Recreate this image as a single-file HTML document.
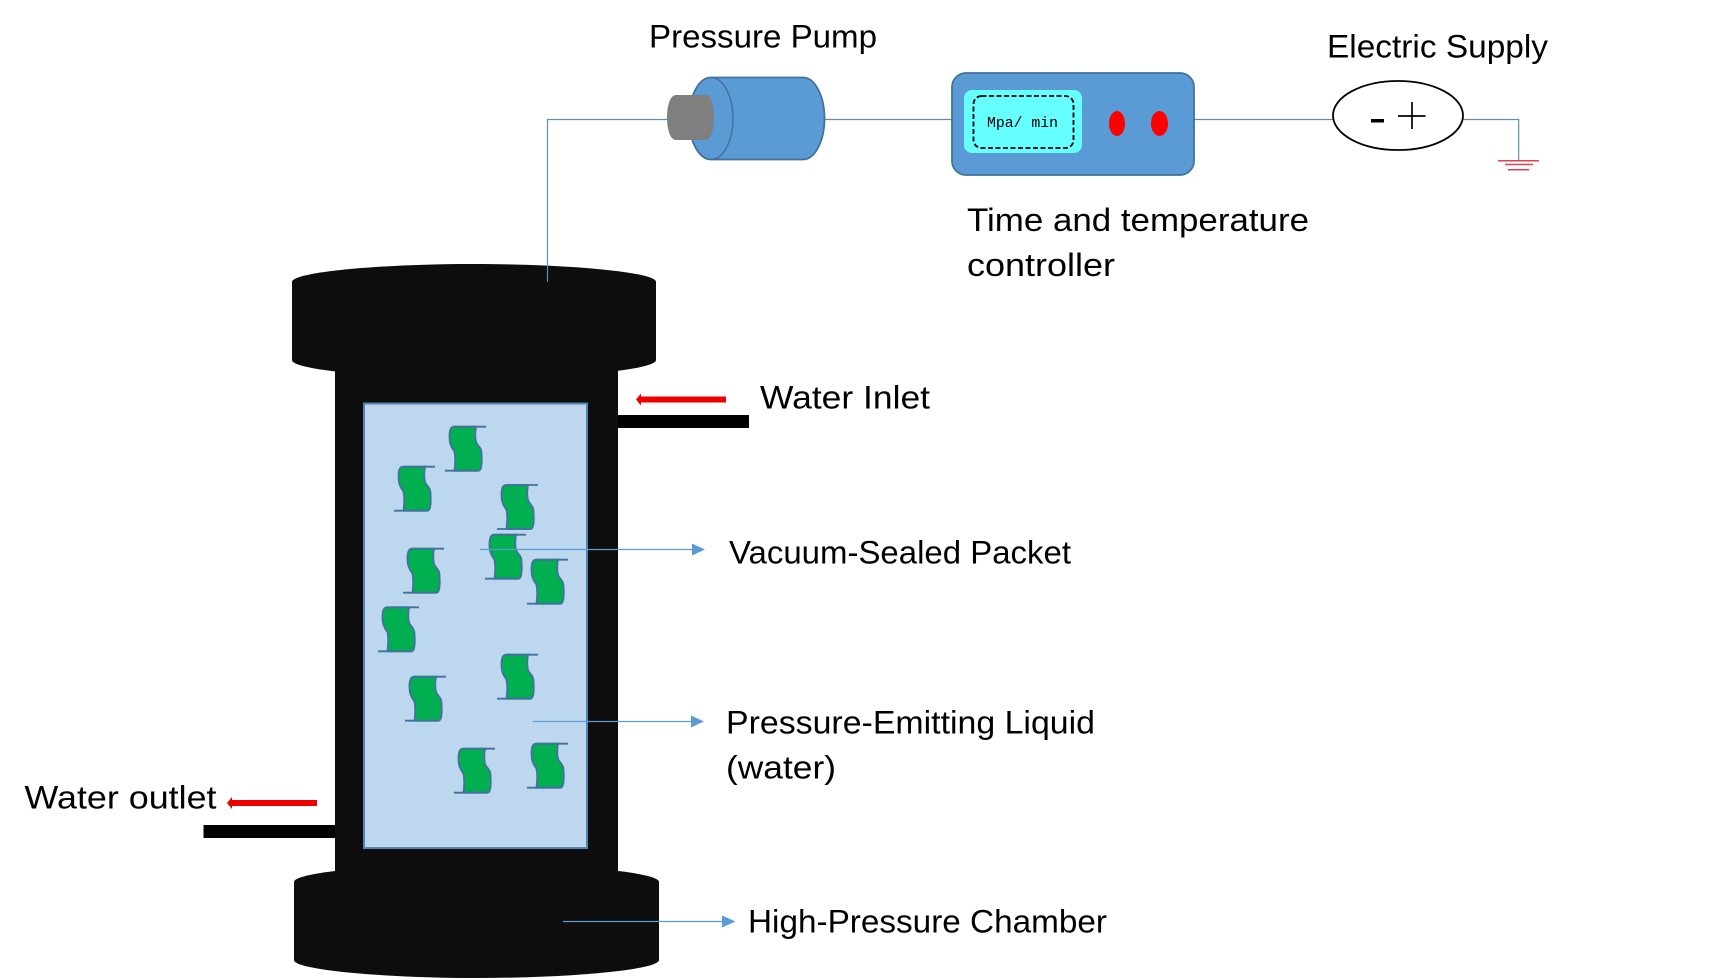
<!DOCTYPE html>
<html lang="en">
<head>
<meta charset="utf-8">
<title>High-Pressure Processing Diagram</title>
<style>
html,body{margin:0;padding:0;background:#fff;width:1725px;height:978px;overflow:hidden}
svg{display:block}
.t{font-family:"Liberation Sans",sans-serif;font-size:32.500px;fill:#000}
.c{stroke:#5f8fb0;stroke-width:1.2;fill:none}
.a{stroke:#5b9bd5;stroke-width:1.2;fill:none}
.h{fill:#5b9bd5}
.b{fill:#0d0d0d}
</style>
</head>
<body>
<svg width="1725" height="978" viewBox="0 0 1725 978" xmlns="http://www.w3.org/2000/svg">
<defs>
<g id="p">
<path d="M9,0 H31 C30,6 30,11 31,15 C32,19 36.500,20 36.500,27 C37,34 37,44 33.500,44 H9.500 C10.500,36 10.500,30 9.500,25 C7,21 4.500,18 4.500,10 C4.500,4 5.500,0 9,0 Z" fill="#00b050" stroke="#41719c" stroke-width="1.8"/>
<path d="M9,0 H41 M0,44 H33" stroke="#41719c" stroke-width="1.8" fill="none"/>
</g>
</defs>

<!-- Connectors -->
<path class="c" d="M824,119.500 H952"/>
<path class="c" d="M1194,119.500 H1333"/>
<path class="c" d="M1463,119.500 H1518.700 V160"/>
<path d="M1498,160.700 H1539 M1505,164.500 H1533 M1508,169.700 H1529" stroke="#e0404f" stroke-width="1.500" fill="none"/>

<!-- Pump -->
<path d="M711,77.500 H803 A21.500,41 0 0 1 803,159.500 H711 A22,41 0 0 1 711,77.500 Z" fill="#5b9bd5" stroke="#41719c" stroke-width="1.8"/>
<path d="M711,77.500 A22,41 0 0 1 711,159.500" fill="none" stroke="#41719c" stroke-width="1.5"/>
<path d="M676,95 H706 C711,95 714,106 714,117.500 C714,129 711,140 706,140 H676 C670,140 667,129 667,117.500 C667,106 670,95 676,95 Z" fill="#7f7f7f"/>

<!-- Controller -->
<rect x="952" y="73" width="242" height="102" rx="14" ry="14" fill="#5b9bd5" stroke="#41719c" stroke-width="1.8"/>
<rect x="964" y="90" width="118" height="63" rx="8" ry="8" fill="#66ffff"/>
<rect x="973.500" y="96" width="100" height="52" rx="8" ry="8" fill="none" stroke="#000" stroke-width="1.800" stroke-dasharray="5 2.500"/>
<text x="987" y="127" font-family="'Liberation Mono',monospace" font-size="14.500" textLength="71" lengthAdjust="spacingAndGlyphs" fill="#000">Mpa/ min</text>
<ellipse cx="1117" cy="123.500" rx="8" ry="12.500" fill="#ff0000"/>
<ellipse cx="1159.500" cy="123.500" rx="8.500" ry="12.500" fill="#ff0000"/>

<!-- Electric supply -->
<ellipse cx="1398" cy="115.500" rx="65" ry="34.500" fill="#fff" stroke="#000" stroke-width="1.800"/>
<rect x="1371" y="119" width="13" height="3.500" fill="#000"/>
<path d="M1398,116 H1425.500 M1412,102 V129" stroke="#000" stroke-width="1.700" fill="none"/>

<!-- Chamber -->
<rect x="617" y="415" width="132" height="13" fill="#000"/>
<rect x="203.500" y="825" width="132" height="13" fill="#000"/>
<path class="b" d="M335,340 H618 V880 H335 Z"/>
<path class="b" d="M292,282 C292,272 380,264 474,264 C568,264 656,272 656,282 V360 C656,370 568,378 474,378 C380,378 292,370 292,360 Z"/>
<path class="b" d="M294,882 C294,872 385,864 476.500,864 C568,864 659,872 659,882 V960 C659,970 568,978 476.500,978 C385,978 294,970 294,960 Z"/>

<!-- Feed line over the flange -->
<path class="c" d="M547.500,282 V119.500 H667"/>

<!-- Liquid -->
<rect x="364" y="403.500" width="223" height="444.500" fill="#bdd7ee" stroke="#5585ad" stroke-width="2"/>

<!-- Packets -->
<use href="#p" x="445" y="426.700"/>
<use href="#p" x="394" y="466.700"/>
<use href="#p" x="497" y="485"/>
<use href="#p" x="485" y="534.700"/>
<use href="#p" x="403" y="548.700"/>
<use href="#p" x="527" y="559.700"/>
<use href="#p" x="378" y="607.300"/>
<use href="#p" x="497" y="654.700"/>
<use href="#p" x="405" y="676.700"/>
<use href="#p" x="454" y="748.700"/>
<use href="#p" x="527" y="743.700"/>

<!-- Label arrows -->
<path class="a" d="M480,549.500 H693"/>
<path class="h" d="M692,543.500 L705,549.500 L692,555.500 Z"/>
<path class="a" d="M532.700,721.500 H692"/>
<path class="h" d="M691,715.500 L704,721.500 L691,727.500 Z"/>
<path class="a" d="M563,921.500 H723"/>
<path class="h" d="M722,915.500 L735.500,921.500 L722,927.500 Z"/>

<!-- Red arrows -->
<path d="M726,396.500 H641 V393.500 L636,399.500 L641,405.500 V402.500 H726 Z" fill="#ee0000"/>
<path d="M317,800 H232 V797 L227,803 L232,809 V806 H317 Z" fill="#ee0000"/>

<!-- Labels -->
<text class="t" x="649" y="47.700" textLength="228" lengthAdjust="spacingAndGlyphs">Pressure Pump</text>
<text class="t" x="1327" y="57.500" textLength="221" lengthAdjust="spacingAndGlyphs">Electric Supply</text>
<text class="t" x="967" y="231" textLength="342" lengthAdjust="spacingAndGlyphs">Time and temperature</text>
<text class="t" x="967" y="276" textLength="148" lengthAdjust="spacingAndGlyphs">controller</text>
<text class="t" x="760" y="408.500" textLength="170" lengthAdjust="spacingAndGlyphs">Water Inlet</text>
<text class="t" x="729" y="563.500" textLength="342" lengthAdjust="spacingAndGlyphs">Vacuum-Sealed Packet</text>
<text class="t" x="726" y="733.500" textLength="369" lengthAdjust="spacingAndGlyphs">Pressure-Emitting Liquid</text>
<text class="t" x="726" y="778.500" textLength="110" lengthAdjust="spacingAndGlyphs">(water)</text>
<text class="t" x="748" y="932.500" textLength="359" lengthAdjust="spacingAndGlyphs">High-Pressure Chamber</text>
<text class="t" x="24.500" y="808.500" textLength="192" lengthAdjust="spacingAndGlyphs">Water outlet</text>
</svg>
</body>
</html>
